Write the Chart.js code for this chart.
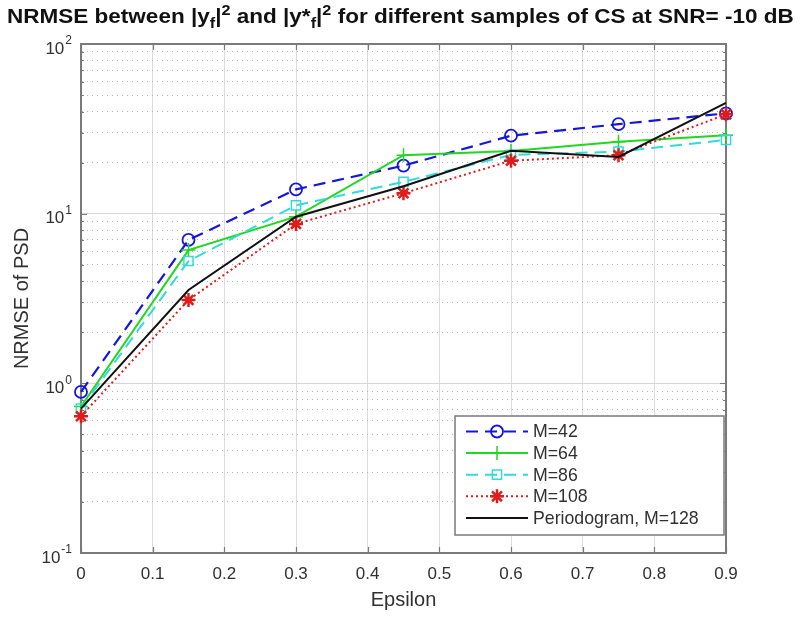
<!DOCTYPE html>
<html>
<head>
<meta charset="utf-8">
<script src="https://cdn.jsdelivr.net/npm/chart.js@4.4.0/dist/chart.umd.min.js"></script>
<style>
  html, body { margin: 0; padding: 0; background: #fff; }
  #wrap { position: relative; width: 801px; height: 617px; }
  #title { position: absolute; left: 0; top: 5px; width: 801px; text-align: center; white-space: nowrap;
    font: bold 20px "Liberation Sans", Arial, sans-serif; color: #111; }
  #titleText { display: inline-block; transform-origin: center top; }
  #title sub, #title sup { font-size: 0.72em; line-height: 0; }
</style>
</head>
<body>
<div id="wrap">
  <canvas id="chart" width="801" height="617"></canvas>
  <div id="title"><span id="titleText">NRMSE between |y<sub>f</sub>|<sup>2</sup> and |y*<sub>f</sub>|<sup>2</sup> for different samples of CS at SNR= -10 dB</span></div>
</div>
<script>
// values
const epsilon = [0, 0.15, 0.3, 0.45, 0.6, 0.75, 0.9];
const m42 = [0.89, 7.0, 13.9, 19.2, 28.8, 33.7, 39.0];
const m64 = [0.73, 6.1, 9.6, 22.1, 23.4, 26.5, 29.0];
const m86 = [0.71, 5.26, 11.2, 15.4, 22.2, 23.2, 27.2];
const m108 = [0.64, 3.1, 8.7, 13.2, 20.5, 22.1, 38.5];
const periodogram = [0.71, 3.55, 9.6, 14.5, 23.5, 21.6, 45.0];

const xTicks = [0, 0.1, 0.2, 0.3, 0.4, 0.5, 0.6, 0.7, 0.8, 0.9];
const yDecades = [0.1, 1, 10, 100];
const yDecadeLabels = ['-1', '0', '1', '2'];

const axisColor = '#7a7a7a';
const textColor = '#303030';
const font = '"Liberation Sans", Arial, sans-serif';

const pts = ys => epsilon.map((x, i) => ({x, y: ys[i]}));

// minor + major log ticks 0.1 .. 100
const logTicks = [];
yDecades.forEach((d, i) => {
  if (i === yDecades.length - 1) { logTicks.push({value: d, major: true}); return; }
  for (let k = 1; k <= 9; k++) logTicks.push({value: +(d * k).toPrecision(3), major: k === 1});
});

function drawMarker(ctx, style, x, y, r) {
  ctx.beginPath();
  if (style === 'circle') {
    ctx.arc(x, y, r, 0, Math.PI * 2);
  } else if (style === 'rect') {
    const s = r * Math.SQRT1_2;
    ctx.rect(x - s, y - s, 2 * s, 2 * s);
  } else if (style === 'cross') {
    ctx.moveTo(x, y - r); ctx.lineTo(x, y + r);
    ctx.moveTo(x - r, y); ctx.lineTo(x + r, y);
  } else if (style === 'star') {
    for (let a = 0; a < 4; a++) {
      const t = a * Math.PI / 4;
      ctx.moveTo(x - r * Math.sin(t), y - r * Math.cos(t));
      ctx.lineTo(x + r * Math.sin(t), y + r * Math.cos(t));
    }
  }
  ctx.stroke();
}

// box on top/right plus inward tick marks, like a matlab axes
const framePlugin = {
  id: 'frame',
  beforeDatasetsDraw(chart) {
    const {ctx, chartArea: a, scales} = chart;
    ctx.save();
    ctx.strokeStyle = axisColor;
    ctx.lineWidth = 1.2;
    scales.x.ticks.forEach(t => {
      const px = Math.round(scales.x.getPixelForValue(t.value)) + 0.5;
      ctx.beginPath();
      ctx.moveTo(px, a.bottom); ctx.lineTo(px, a.bottom - 6);
      ctx.moveTo(px, a.top); ctx.lineTo(px, a.top + 6);
      ctx.stroke();
    });
    scales.y.ticks.forEach(t => {
      const py = Math.round(scales.y.getPixelForValue(t.value)) + 0.5;
      const len = t.major ? 6 : 3;
      ctx.beginPath();
      ctx.moveTo(a.left, py); ctx.lineTo(a.left + len, py);
      ctx.moveTo(a.right, py); ctx.lineTo(a.right - len, py);
      ctx.stroke();
    });
    ctx.lineWidth = 2;
    ctx.beginPath();
    ctx.moveTo(a.left, a.top); ctx.lineTo(a.right, a.top); ctx.lineTo(a.right, a.bottom);
    ctx.stroke();
    ctx.restore();
  },
  afterDraw(chart) {
    // 10^n labels on the log axis
    const {ctx, scales} = chart;
    const y = scales.y;
    ctx.save();
    ctx.fillStyle = textColor;
    ctx.textBaseline = 'middle';
    yDecades.forEach((d, i) => {
      const py = y.getPixelForValue(d);
      const exp = yDecadeLabels[i];
      ctx.font = '12px ' + font;
      ctx.textAlign = 'right';
      const right = 72;
      ctx.fillText(exp, right, py - 3);
      const ew = ctx.measureText(exp).width;
      ctx.font = '17px ' + font;
      ctx.fillText('10', right - ew - 1, py + 5);
    });
    ctx.restore();
  }
};

const legendPlugin = {
  id: 'boxLegend',
  afterDraw(chart) {
    const {ctx, chartArea: a} = chart;
    const w = 269, h = 119;
    const x0 = a.right - 271, y0 = a.bottom - 137;
    ctx.save();
    ctx.fillStyle = '#fff';
    ctx.fillRect(x0, y0, w, h);
    ctx.strokeStyle = axisColor;
    ctx.lineWidth = 1.5;
    ctx.strokeRect(x0, y0, w, h);
    ctx.font = '17.7px ' + font;
    ctx.textBaseline = 'middle';
    chart.data.datasets.forEach((ds, i) => {
      const cy = y0 + 15.5 + i * 21.6;
      ctx.strokeStyle = ds.borderColor;
      ctx.lineWidth = ds.borderWidth;
      ctx.setLineDash(ds.borderDash || []);
      ctx.beginPath();
      ctx.moveTo(x0 + 11, cy); ctx.lineTo(x0 + 73, cy);
      ctx.stroke();
      ctx.setLineDash([]);
      if (ds.pointRadius > 0) {
        ctx.lineWidth = ds.pointBorderWidth;
        drawMarker(ctx, ds.pointStyle, x0 + 42, cy, ds.pointRadius);
      }
      ctx.fillStyle = textColor;
      ctx.fillText(ds.label, x0 + 78, cy + 1);
    });
    ctx.restore();
  }
};

new Chart(document.getElementById('chart'), {
  type: 'line',
  data: {
    datasets: [
      {label: 'M=42', data: pts(m42), borderColor: '#1515dd', borderWidth: 2.2, borderDash: [12, 7],
        pointStyle: 'circle', pointRadius: 6, pointBorderWidth: 1.8, pointBackgroundColor: 'rgba(0,0,0,0)', order: 5},
      {label: 'M=64', data: pts(m64), borderColor: '#1fd81f', borderWidth: 2,
        pointStyle: 'cross', pointRadius: 7, pointBorderWidth: 1.5, order: 4},
      {label: 'M=86', data: pts(m86), borderColor: '#33dada', borderWidth: 2, borderDash: [12, 7],
        pointStyle: 'rect', pointRadius: 6.5, pointBorderWidth: 1.5, pointBackgroundColor: 'rgba(0,0,0,0)', order: 3},
      {label: 'M=108', data: pts(m108), borderColor: '#dd1c1c', borderWidth: 2, borderDash: [2, 3],
        pointStyle: 'star', pointRadius: 7, pointBorderWidth: 2.5, order: 2},
      {label: 'Periodogram, M=128', data: pts(periodogram), borderColor: '#111111', borderWidth: 2,
        pointRadius: 0, order: 1}
    ]
  },
  options: {
    responsive: false,
    animation: false,
    layout: {padding: {top: 44, right: 75, left: 0, bottom: 0}},
    elements: {line: {tension: 0, fill: false}},
    datasets: {line: {clip: false}},
    plugins: {legend: {display: false}, tooltip: {enabled: false}, title: {display: false}},
    scales: {
      x: {
        type: 'linear', min: 0, max: 0.9,
        afterBuildTicks: s => { s.ticks = xTicks.map(v => ({value: v})); },
        afterFit: s => { s.height = 64; },
        ticks: {autoSkip: false, color: textColor, padding: 11, font: {family: font, size: 17},
          callback: v => v === 0 ? '0' : v.toFixed(1)},
        grid: {color: '#dcdcdc', lineWidth: 1, drawTicks: false},
        border: {color: axisColor, width: 2},
        title: {display: true, text: 'Epsilon', color: textColor, font: {family: font, size: 20}, padding: {top: 0, bottom: 5}},
      },
      y: {
        type: 'logarithmic', min: 0.1, max: 100,
        afterBuildTicks: s => { s.ticks = logTicks.map(t => ({value: t.value, major: t.major})); },
        afterFit: s => { s.width = 81; },
        ticks: {autoSkip: false, callback: () => ''},
        grid: {drawTicks: false, lineWidth: 1,
          color: c => (c.tick && !c.tick.major) ? '#b4b4b4' : '#d6d6d6'},
        border: {color: axisColor, width: 2,
          dash: c => (c.tick && !c.tick.major) ? [1, 4] : []},
        title: {display: true, text: 'NRMSE of PSD', color: textColor, font: {family: font, size: 20}, padding: {top: 10, bottom: 0}}
      }
    }
  },
  plugins: [framePlugin, legendPlugin]
});

// stretch the title across the figure width like the original
const tt = document.getElementById('titleText');
const tw = tt.getBoundingClientRect().width;
tt.style.transform = 'scaleX(' + (787 / tw).toFixed(3) + ')';
</script>
</body>
</html>
